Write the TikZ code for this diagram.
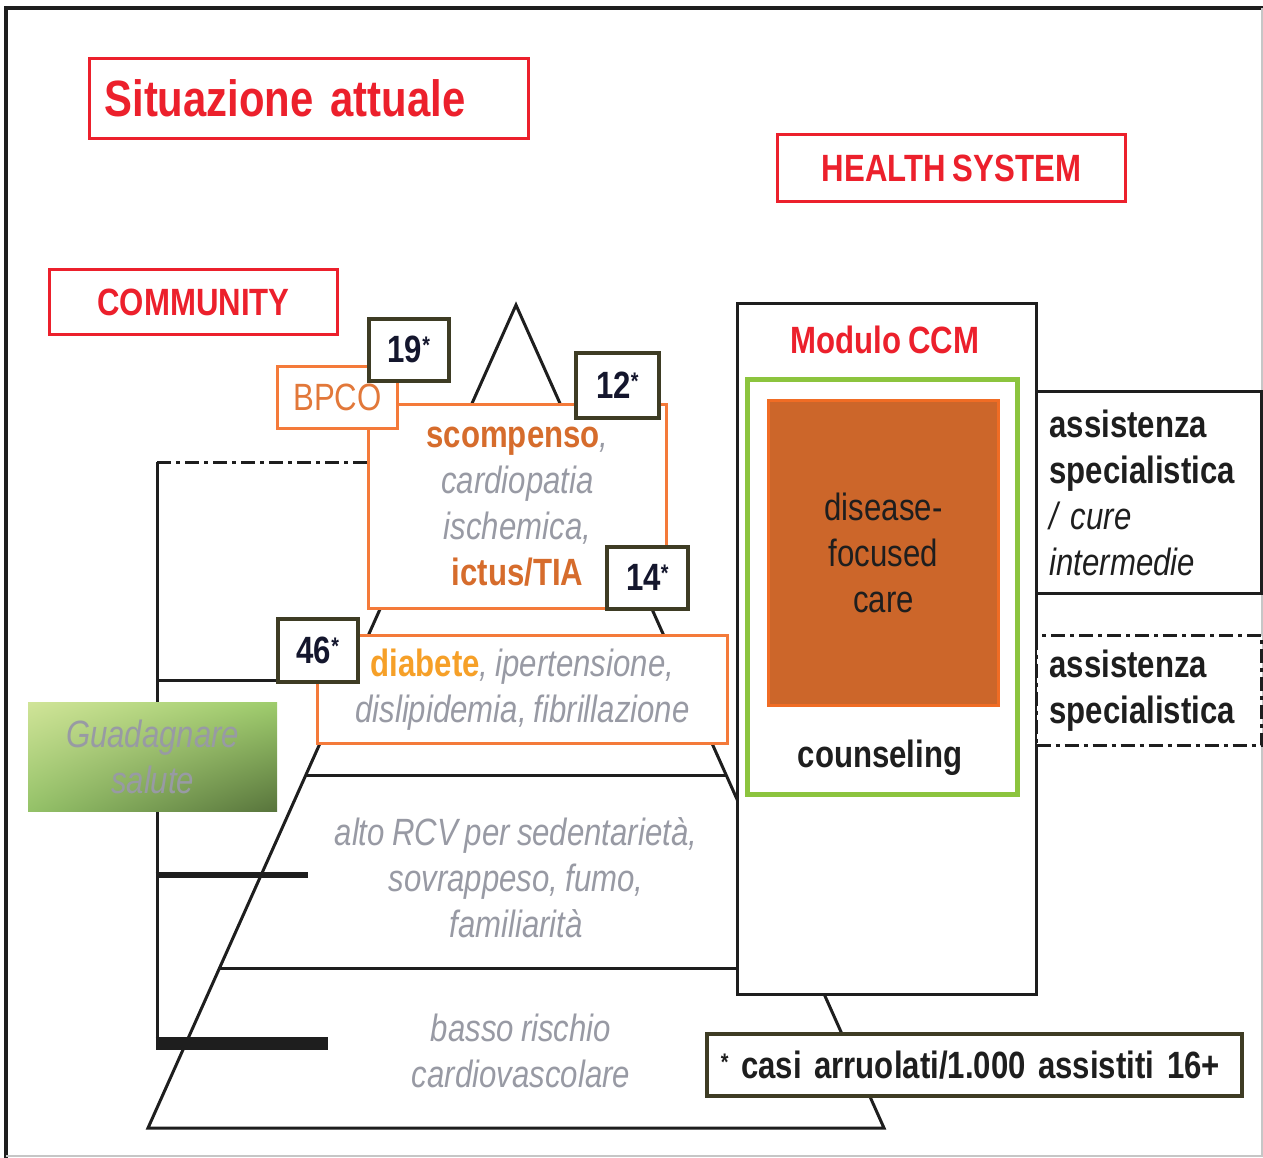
\documentclass[tikz,border=0pt]{standalone}
\usepackage{fontspec}
\setmainfont{Liberation Sans}[FakeStretch=0.82, WordSpace=0.82]
\usetikzlibrary{calc,shadings}
\definecolor{tred}{RGB}{236,32,44}
\definecolor{orb}{RGB}{244,122,58}
\definecolor{ortext}{RGB}{214,108,44}
\definecolor{bpcot}{RGB}{226,120,58}
\definecolor{diabc}{RGB}{246,160,40}
\definecolor{gtext}{RGB}{152,154,164}
\definecolor{olive}{RGB}{62,60,36}
\definecolor{navy}{RGB}{20,22,45}
\definecolor{ccmfill}{RGB}{204,102,42}
\definecolor{ccmline}{RGB}{240,108,36}
\definecolor{lgreen}{RGB}{140,196,62}
\definecolor{ink}{RGB}{30,30,30}
\definecolor{gUL}{RGB}{208,228,152}
\definecolor{gUR}{RGB}{158,204,108}
\definecolor{gLL}{RGB}{148,194,104}
\definecolor{gLR}{RGB}{88,116,60}
\newcommand{\bigfs}{\fontsize{38}{46}\selectfont}
\newcommand{\stelle}{\raisebox{9pt}{\fontsize{24}{24}\selectfont *}}
\tikzset{
  numbox/.style={draw=olive, line width=3.5, fill=white, inner sep=0, font=\bigfs\bfseries, text=navy, anchor=north west},
  orbox/.style={draw=orb, line width=3, fill=white, inner sep=0, anchor=north west},
  redbox/.style={draw=tred, line width=3, fill=white, inner sep=0, text=tred, anchor=north west},
  blkbox/.style={draw=ink, line width=3, fill=white, inner sep=0, anchor=north west},
  pyr/.style={draw=ink, line width=3, line join=miter},
  greytxt/.style={font=\bigfs\itshape, text=gtext, align=center},
  dashdot/.style={dash pattern=on 14pt off 5pt on 4pt off 5pt}
}
\begin{document}
\begin{tikzpicture}[x=1pt,y=-1pt]
\useasboundingbox (0,0) rectangle (1263,1158);
\fill[white] (0,0) rectangle (1263,1158);
% frame
\draw[line width=4, ink] (6,1158) -- (6,8) -- (1263,8);
\draw[line width=1.5, gray!45] (1262,8) -- (1262,1156) -- (6,1156);

% pyramid
\coordinate (apex) at (516,305);
\coordinate (bl) at (148,1128);
\coordinate (br) at (884,1128);
\draw[pyr, fill=white] (apex) -- (bl) -- (br) -- cycle;
\draw[pyr] ($(apex)!0.5711!(bl)$) -- ($(apex)!0.5711!(br)$);
\draw[pyr] ($(apex)!0.8056!(bl)$) -- ($(apex)!0.8056!(br)$);
\node[greytxt] (rcv) at (516,878) {alto RCV per sedentarietà,\\sovrappeso, fumo,\\familiarità};
\node[greytxt] (basso) at (521,1051) {basso rischio\\cardiovascolare};

% left bracket
\coordinate (b1) at (157,462);
\coordinate (b2) at (157,680);
\coordinate (b3) at (157,875);
\coordinate (b4) at (157,1043);
\coordinate (e3) at (308,875);
\coordinate (e4) at (328,1043);
\draw[line width=3, ink] (b1) -- (b4);
\draw[line width=6, ink] ($(b3)+(-1.5,0)$) -- (e3);
\draw[line width=13, ink] ($(b4)+(-1.5,0)$) -- (e4);

% Guadagnare salute
\node[anchor=north west, minimum width=249, minimum height=109, inner sep=0,
  shade, upper left=gUL, upper right=gUR, lower left=gLL, lower right=gLR,
  greytxt] (gs) at (28,702) {Guadagnare\\salute};

% health system column
\node[blkbox, minimum width=299, minimum height=691] (ccm) at (736,302) {};
\node[font=\bigfs\bfseries, text=tred] (modulo) at (885,340) {Modulo CCM};
\node[draw=lgreen, line width=5, anchor=north west, minimum width=270, minimum height=415, inner sep=0] (green) at (745,377) {};
\node[draw=ccmline, fill=ccmfill, line width=3, anchor=north west, minimum width=230, minimum height=305, inner sep=0, font=\bigfs, align=center, text=ink] (dfc) at (767,399) {disease-\\focused\\care};
\node[font=\bigfs\bfseries, text=ink] (couns) at (880,758) {counseling};

\node[blkbox, minimum width=225, minimum height=202, text width=199, inner xsep=13, align=left, font=\bigfs, text=ink] (spec1) at (1035,390) {\textbf{assistenza}\\\textbf{specialistica}\\\textit{/ cure}\\\textit{intermedie}};
\node[blkbox, dashdot, minimum width=225, minimum height=110, text width=199, inner xsep=13, align=left, font=\bigfs\bfseries, text=ink] (spec2) at (1035,634) {assistenza\\specialistica};

\node[draw=olive, line width=3.5, fill=white, anchor=north west, minimum width=535, minimum height=62, text width=507, inner xsep=14, inner ysep=0, align=left, font=\bigfs\bfseries, text=ink] (foot) at (705,1032) {\raisebox{8pt}{\fontsize{24}{24}\selectfont *} casi arruolati/1.000 assistiti 16+};

% pyramid boxes
\node[orbox, minimum width=410, minimum height=108, greytxt] (diab) at (316,634) {{\upshape\bfseries\color{diabc}diabete}, ipertensione,\\dislipidemia, fibrillazione};
\node[numbox, minimum width=80, minimum height=63] (n46) at (276,617) {46\stelle};
\draw[line width=3, ink] (b2) -- (b2 -| n46.west);

\node[orbox, minimum width=298, minimum height=204, greytxt] (scomp) at (367,403) {{\upshape\bfseries\color{ortext}scompenso},\\cardiopatia\\ischemica,\\{\upshape\bfseries\color{ortext}ictus/TIA}};
\draw[line width=3, ink, dashdot] (b1) -- (b1 -| scomp.west);
\node[orbox, minimum width=120, minimum height=62, font=\bigfs, text=bpcot] (bpco) at (276,365) {BPCO};
\node[numbox, minimum width=80, minimum height=62] (n19) at (367,317) {19\stelle};
\node[numbox, minimum width=83, minimum height=65] (n12) at (574,351) {12\stelle};
\node[numbox, minimum width=81, minimum height=62] (n14) at (605,545) {14\stelle};

% titles
\node[redbox, minimum width=439, minimum height=80, text width=409, inner xsep=15, align=left, font=\fontsize{51}{60}\selectfont\bfseries] (title) at (88,57) {Situazione attuale};
\node[redbox, minimum width=348, minimum height=67, font=\bigfs\bfseries] (hs) at (776,133) {HEALTH SYSTEM};
\node[redbox, minimum width=288, minimum height=65, font=\bigfs\bfseries] (comm) at (48,268) {COMMUNITY};
\end{tikzpicture}
\end{document}
